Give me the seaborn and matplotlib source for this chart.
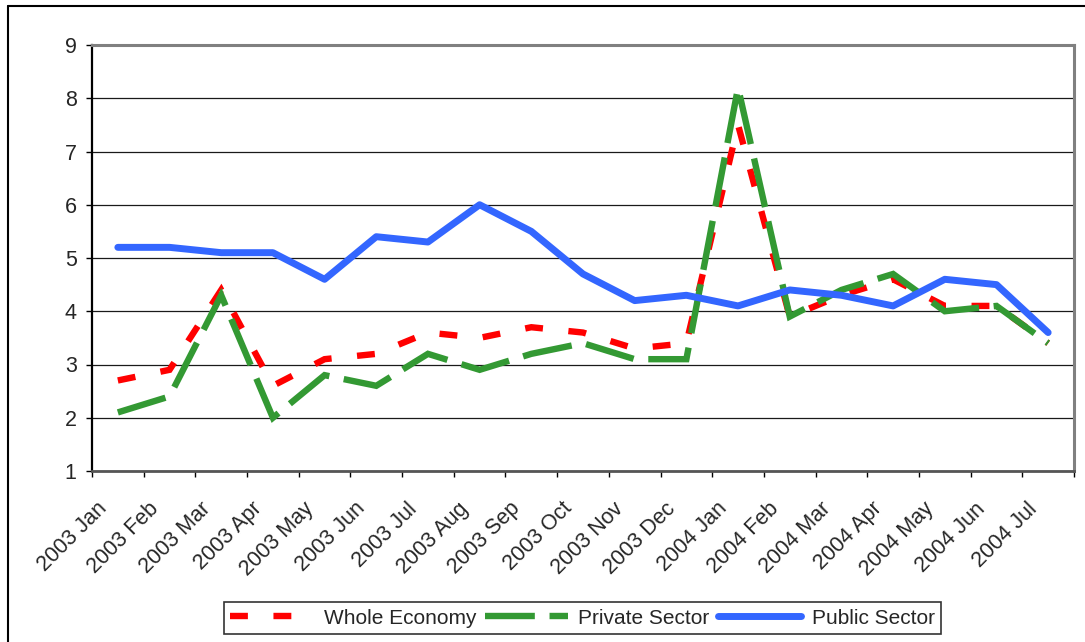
import matplotlib
matplotlib.use("Agg")
import matplotlib.pyplot as plt
import matplotlib.transforms as mtransforms
from matplotlib.lines import Line2D
from matplotlib.ticker import FixedLocator, NullFormatter
import numpy as np
import pandas as pd
import seaborn as sns

months = ["2003 Jan", "2003 Feb", "2003 Mar", "2003 Apr", "2003 May", "2003 Jun",
          "2003 Jul", "2003 Aug", "2003 Sep", "2003 Oct", "2003 Nov", "2003 Dec",
          "2004 Jan", "2004 Feb", "2004 Mar", "2004 Apr", "2004 May", "2004 Jun",
          "2004 Jul"]
whole_economy = [2.7, 2.9, 4.4, 2.6, 3.1, 3.2, 3.6, 3.5, 3.7, 3.6, 3.3, 3.4,
                 7.5, 3.9, 4.3, 4.6, 4.1, 4.1, 3.4]
private_sector = [2.1, 2.4, 4.3, 2.0, 2.8, 2.6, 3.2, 2.9, 3.2, 3.4, 3.1, 3.1,
                  8.2, 3.9, 4.4, 4.7, 4.0, 4.1, 3.4]
public_sector = [5.2, 5.2, 5.1, 5.1, 4.6, 5.4, 5.3, 6.0, 5.5, 4.7, 4.2, 4.3,
                 4.1, 4.4, 4.3, 4.1, 4.6, 4.5, 3.6]
y_ticks = [1, 2, 3, 4, 5, 6, 7, 8, 9]

sns.set_theme(style="white")
plt.rcParams["font.family"] = ["Liberation Sans", "DejaVu Sans"]

# category centres sit half a slot to the right of each boundary tick
pos = np.arange(len(months)) + 0.5
df = pd.DataFrame({
    "pos": np.tile(pos, 3),
    "value": whole_economy + private_sector + public_sector,
    "series": ["Whole Economy"] * len(months) + ["Private Sector"] * len(months)
              + ["Public Sector"] * len(months),
})

styles = {
    "Whole Economy": dict(color="#FF0000", lw=4.6, ls=(0, (2.8, 4.0))),
    "Private Sector": dict(color="#339933", lw=4.6, ls=(0, (7.8, 2.3))),
    "Public Sector": dict(color="#3366FF", lw=5.0, ls="-"),
}

fig = plt.figure(figsize=(10.85, 6.42), dpi=100)
ax = fig.add_axes([92 / 1085, 1 - 471 / 642, (1074 - 92) / 1085, (471 - 45) / 642])

for name, st in styles.items():
    sub = df[df["series"] == name]
    sns.lineplot(data=sub, x="pos", y="value", ax=ax, color=st["color"],
                 linewidth=st["lw"], linestyle=st["ls"], label=name,
                 legend=False, dash_capstyle="butt", solid_capstyle="round",
                 solid_joinstyle="round", dash_joinstyle="miter")

ax.set_xlim(0, len(months))
ax.set_ylim(1, 9)
ax.set_xlabel("")
ax.set_ylabel("")

# y axis
ax.set_yticks(y_ticks)
ax.set_yticklabels([str(v) for v in y_ticks])
ax.yaxis.grid(True, color="#1a1a1a", linewidth=0.9)
ax.xaxis.grid(False)
ax.tick_params(axis="y", which="major", direction="out", length=4.5, width=1,
               color="black", pad=6.5, labelsize=15.5, left=True)

# x axis: tick marks on slot boundaries, labels on slot centres
ax.xaxis.set_minor_locator(FixedLocator(np.arange(len(months) + 1)))
ax.xaxis.set_minor_formatter(NullFormatter())
ax.set_xticks(pos)
ax.set_xticklabels(months, rotation=45, ha="right", va="center",
                   rotation_mode="anchor")
ax.tick_params(axis="x", which="major", length=0, pad=25, labelsize=15.5)
ax.tick_params(axis="x", which="minor", direction="out", length=4.5, width=1,
               color="black", bottom=True)
shift = mtransforms.ScaledTranslation(-14 / 100, 0, fig.dpi_scale_trans)
for lab in ax.get_xticklabels():
    lab.set_transform(lab.get_transform() + shift)

for side in ["top", "right"]:
    ax.spines[side].set_visible(True)
    ax.spines[side].set_color("#808080")
    ax.spines[side].set_linewidth(2.2)
ax.spines["left"].set_color("#000000")
ax.spines["left"].set_linewidth(1.6)
ax.spines["bottom"].set_color("#555555")
ax.spines["bottom"].set_linewidth(2.0)

handles = ax.get_lines()[:3]
leg = fig.legend(handles, list(styles.keys()), loc="center",
                 bbox_to_anchor=(582.5 / 1085, 1 - 618 / 642), ncol=3,
                 frameon=True, fancybox=False, edgecolor="black",
                 fontsize=15, handlelength=4.0, handletextpad=0.5,
                 columnspacing=0.4, borderpad=0.3, borderaxespad=0)
leg.get_frame().set_linewidth(1.2)

# outer chart border (left and top edges)
fig.add_artist(Line2D([8 / 1085, 8 / 1085], [0, 1 - 6 / 642],
                      transform=fig.transFigure, color="black", lw=1.5))
fig.add_artist(Line2D([8 / 1085, 1], [1 - 6 / 642, 1 - 6 / 642],
                      transform=fig.transFigure, color="black", lw=1.5))

fig.savefig("out.png", dpi=100, facecolor="white")
